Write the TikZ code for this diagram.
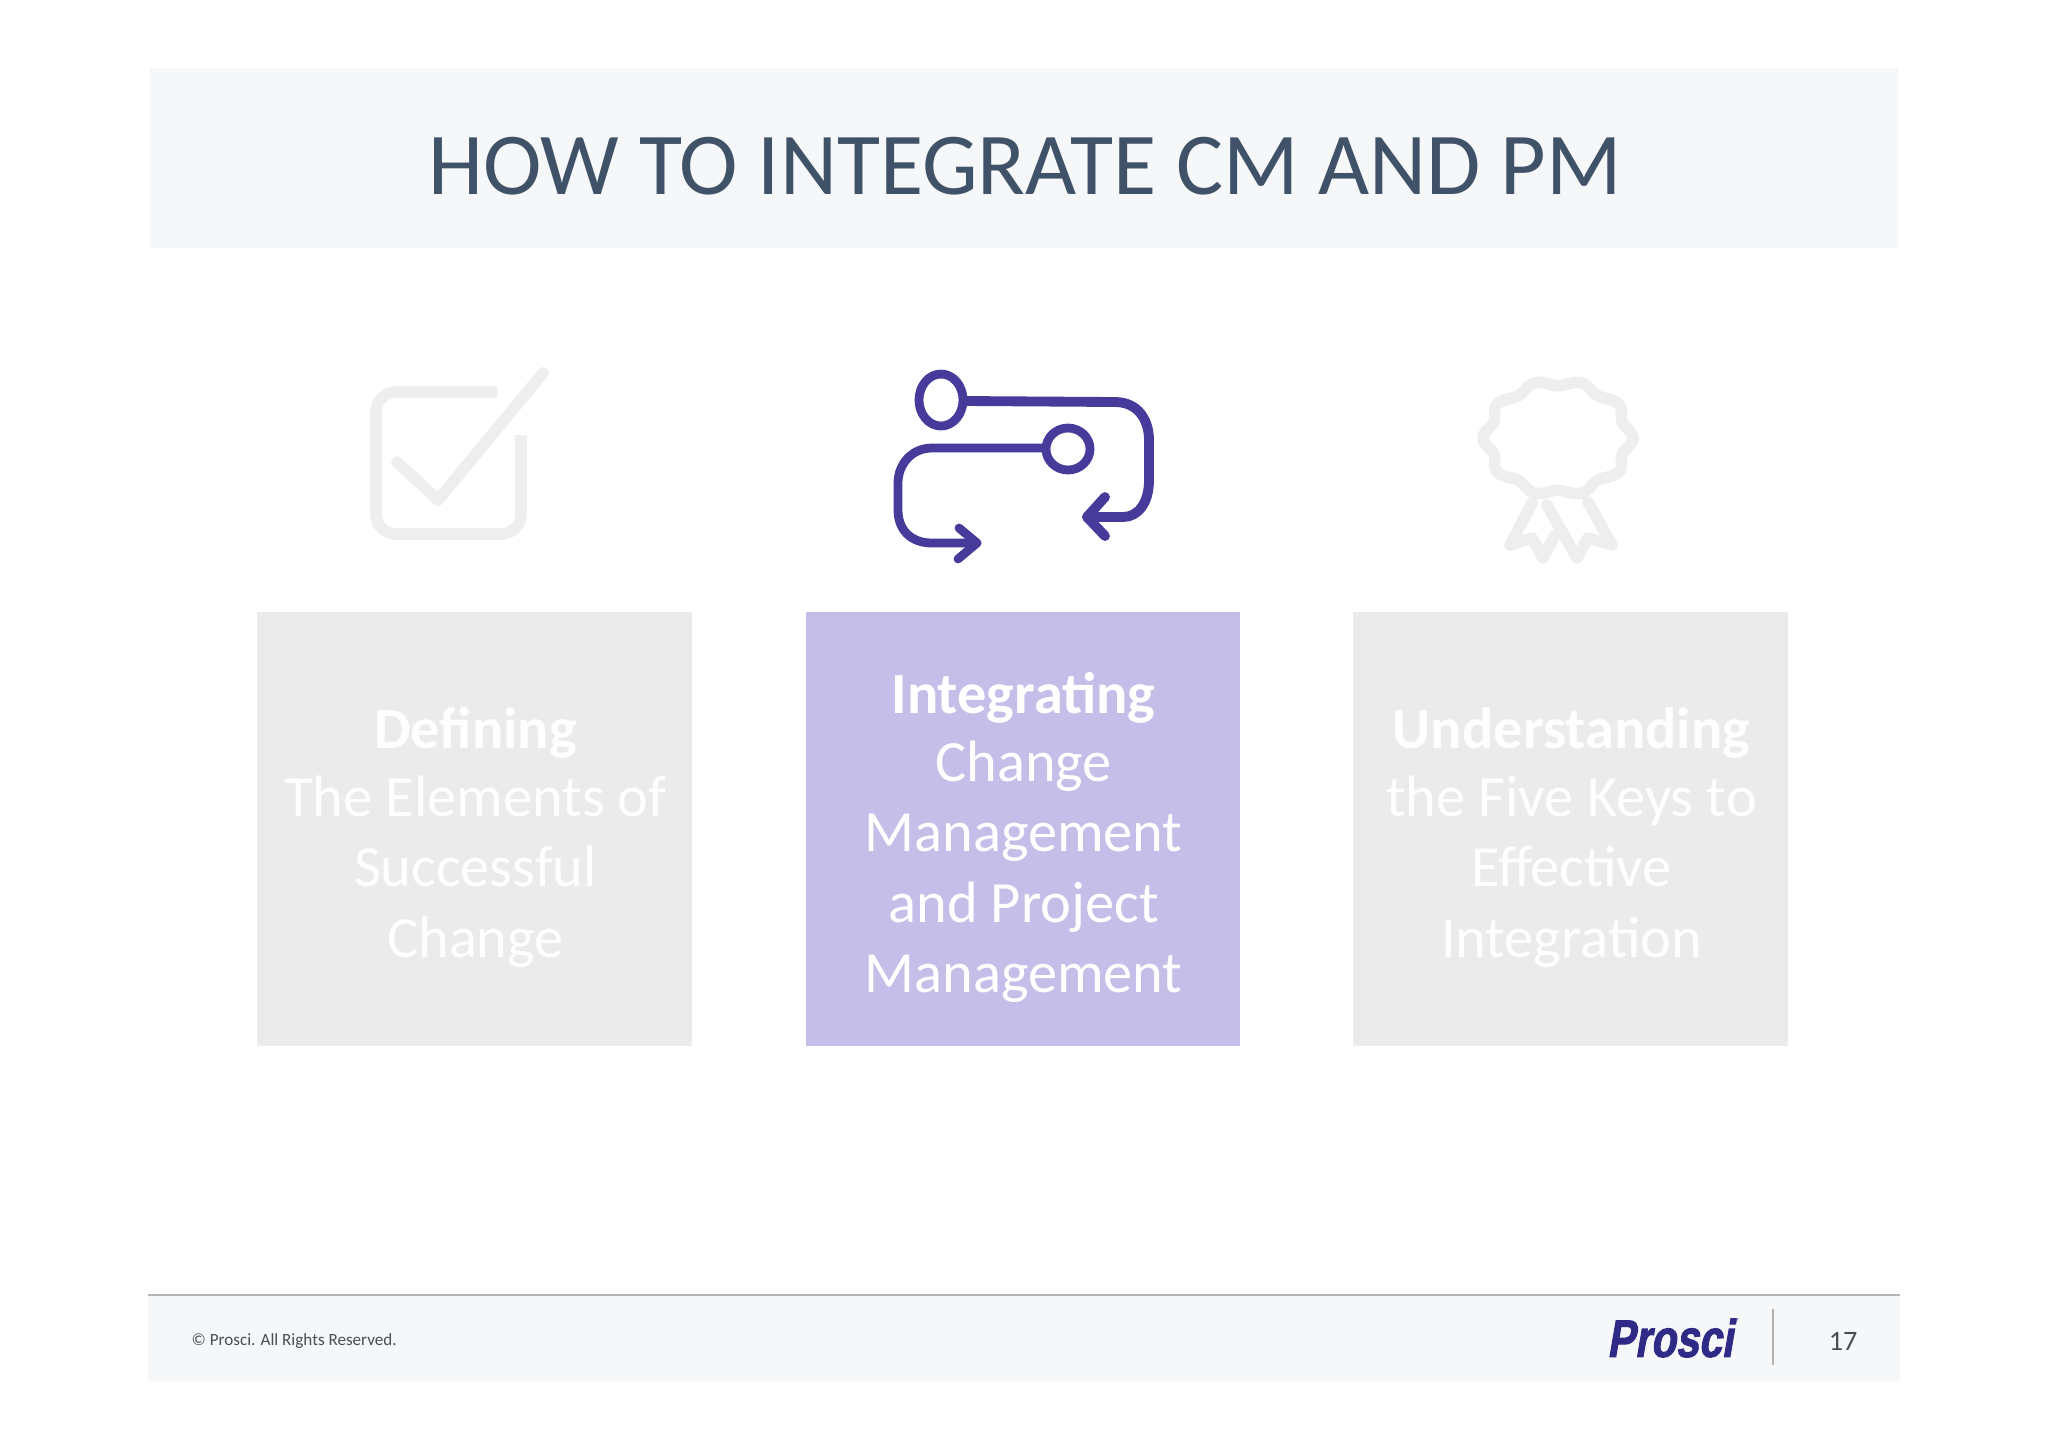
\documentclass[tikz,border=0pt]{standalone}
\usepackage{xcolor}
\usepackage{fontspec}
\setmainfont{Carlito}
\newfontfamily\logofont[FakeSlant=0.22,FakeBold=2.2]{Liberation Sans Bold}
\usetikzlibrary{positioning,calc}

\definecolor{bandgray}{HTML}{F6F7F8}
\definecolor{titleblue}{HTML}{3F5268}
\definecolor{boxgray}{HTML}{EBEBEC}
\definecolor{boxpurple}{HTML}{C5BEE8}
\definecolor{iconpurple}{HTML}{463A9B}
\definecolor{icongray}{HTML}{EEEEEE}
\definecolor{logoblue}{HTML}{2E2A86}
\definecolor{footgray}{HTML}{4A4E54}

\tikzset{
    cardbox/.style={rectangle,minimum width=4.34cm,minimum height=4.34cm,inner sep=0pt},
    cardtext/.style={text width=4.2cm,align=flush center,inner sep=0pt,font=\fontsize{16.6}{20}\selectfont},
    grayicon/.style={draw=icongray,line width=3.3pt,line cap=round,line join=round},
    purpleicon/.style={draw=iconpurple,line width=2.8pt,line cap=round,line join=round},
    purplethin/.style={draw=iconpurple,line width=2.5pt,line cap=round,line join=round}
}

\begin{document}
\begin{tikzpicture}[x=0.01cm,y=-0.01cm]
    \useasboundingbox (0,0) rectangle (2048,1447);

    % header
    \fill[bandgray] (150,68) rectangle (1898,248);
    \node[text=titleblue,font=\fontsize{25.1}{28}\selectfont] (title) at (1025,166) {HOW TO INTEGRATE CM AND PM};

    % cards
    \node[cardbox,fill=boxgray] (defining) at (474.5,829) {};
    \node[cardbox,fill=boxpurple] (integrating) at (1023,829) {};
    \node[cardbox,fill=boxgray] (understanding) at (1570.5,829) {};
    \node[cardtext,text=white!97!boxgray] (definingtext) at ([xshift=0.01cm,yshift=-0.085cm]defining.center)
        {\textbf{Defining}\\[-0.7pt]The Elements of\\Successful\\Change};
    \node[cardtext,text=white] (integratingtext) at ([xshift=0.005cm,yshift=-0.085cm]integrating.center)
        {\textbf{Integrating}\\[-0.7pt]Change\\Management\\and Project\\Management};
    \node[cardtext,text=white!97!boxgray] (understandingtext) at ([xshift=0.01cm,yshift=-0.085cm]understanding.center)
        {\textbf{Understanding}\\[-0.7pt]the Five Keys to\\Effective\\Integration};

    % check icon
    \draw[grayicon,line cap=butt] (497,392) -- (396,392) to[out=180,in=90] (376,412) -- (376,514)
        to[out=-90,in=180] (396,534) -- (501,534) to[out=0,in=-90] (521,514) -- (521,435);
    \draw[grayicon] (397,462) -- (438,500) -- (543,373);

    % loop icon
    \draw[purplethin] (941,400) ellipse (22 and 26);
    \draw[purplethin] (1068,449) ellipse (22 and 21);
    \draw[purpleicon] (967,401) -- (1115,402) .. controls (1138,402) and (1149,420) .. (1149,440)
        -- (1149,480) .. controls (1149,503) and (1138,517) .. (1123,517) -- (1087,517);
    \draw[purpleicon] (1105,497) -- (1087,517) -- (1105,536);
    \draw[purplethin] (1043,448) -- (932,448) .. controls (911,448) and (898,465) .. (898,483)
        -- (898,510) .. controls (898,530) and (911,543) .. (932,543) -- (977,543);
    \draw[purplethin] (959,528) -- (977,543) -- (958,559);

    % award icon
    \draw[grayicon] plot[domain=0:360,samples=181,smooth] ({1558+75*(0.95+0.05*cos(10*\x))*cos(\x)},{438+58*(0.95+0.05*cos(10*\x))*sin(\x)});
    \draw[grayicon] (1532,503) -- (1510,545) -- (1532,538) -- (1543,558) -- (1555,535);
    \draw[grayicon] (1547,505) -- (1577,558) -- (1588,538) -- (1612,545) -- (1588,502);

    % footer
    \fill[bandgray] (148,1295) rectangle (1900,1381);
    \draw[line width=0.4pt,black!30] (148,1295) -- (1900,1295);
    \node[anchor=west,inner sep=0pt,text=footgray,font=\fontsize{4.86}{6}\selectfont] (rights) at (191,1341.5) {© Prosci. All Rights Reserved.};
    \node[inner sep=0pt,text=logoblue,xscale=0.78,font=\fontsize{15}{18}\logofont] (logo) at (1670,1338) {Prosci};
    \node[inner sep=0pt,text=logoblue!70,font=\fontsize{2.5}{3}\selectfont] (regmark) at (1738,1321) {®};
    \draw[line width=0.3pt,black!30] (1773,1309) -- (1773,1365);
    \node[inner sep=0pt,text=footgray,font=\fontsize{8}{10}\selectfont] (pagenum) at (1843,1341) {17};
\end{tikzpicture}
\end{document}
